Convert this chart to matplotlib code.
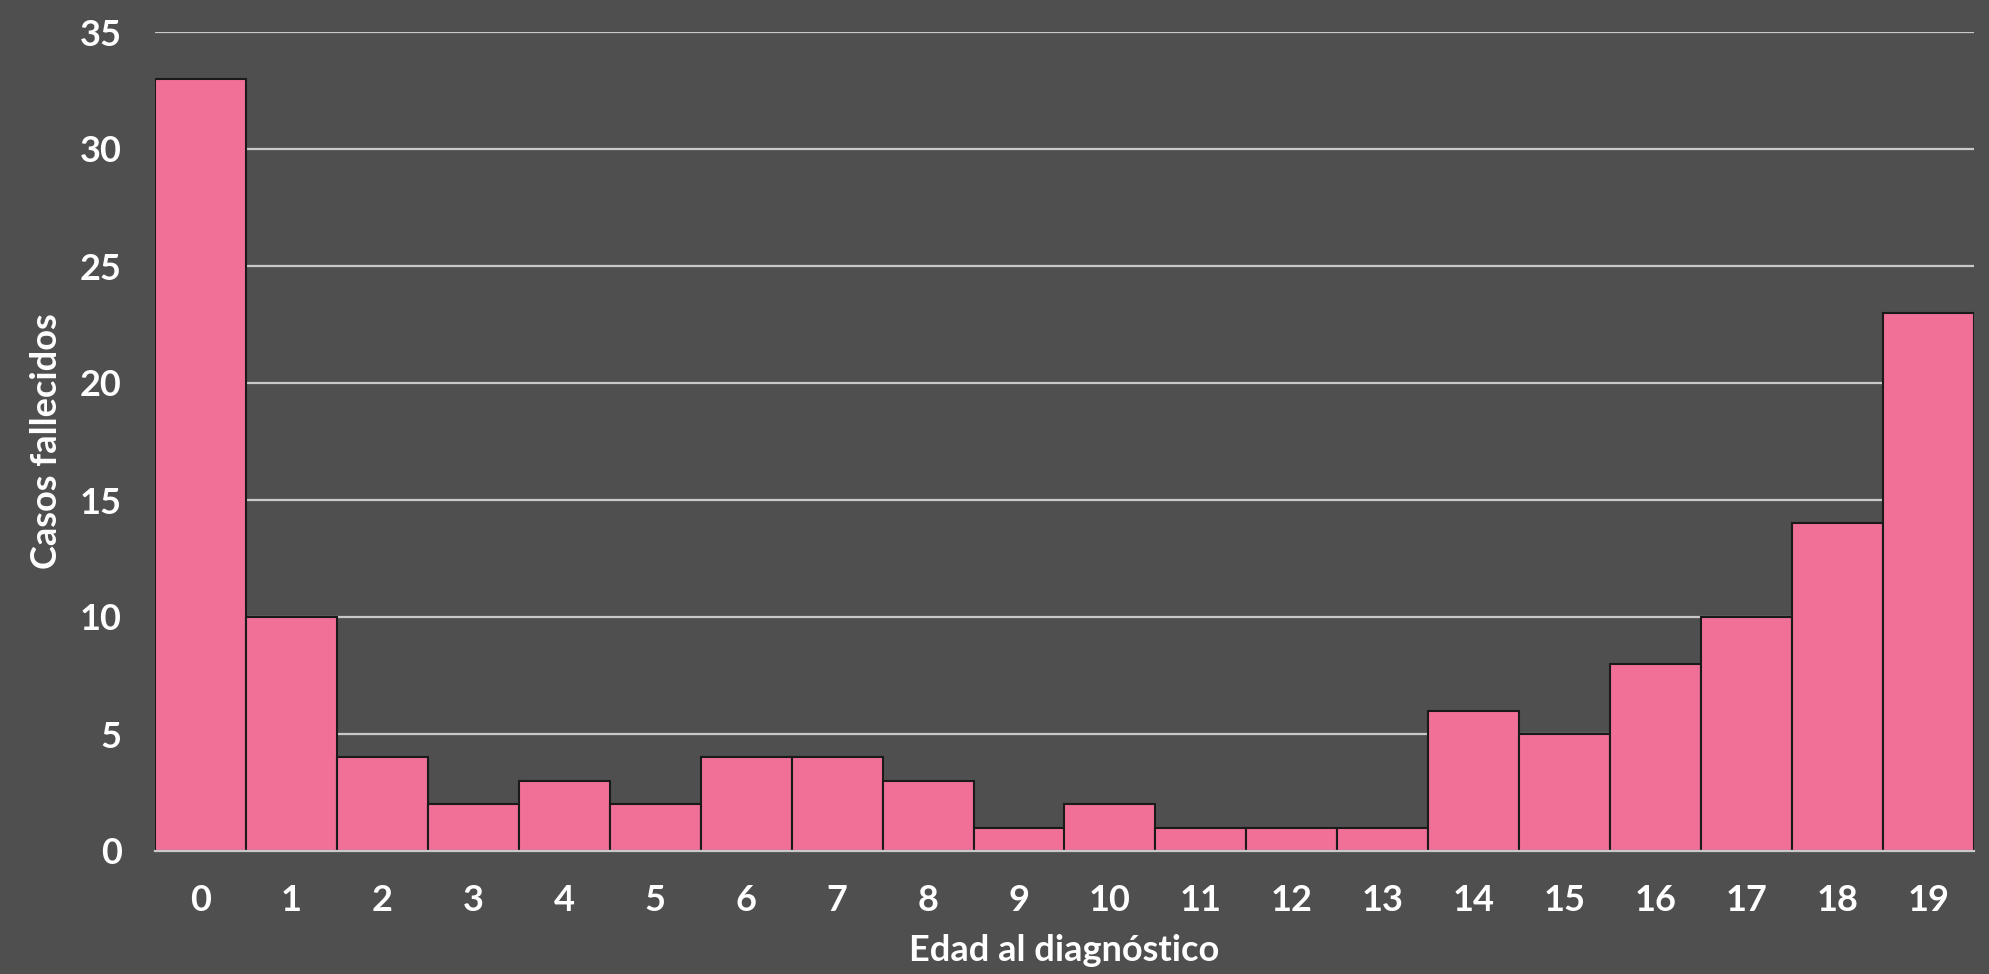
import matplotlib
matplotlib.use("Agg")
import matplotlib.pyplot as plt

ages = list(range(20))
age_labels = [str(a) for a in ages]
deaths = [33, 10, 4, 2, 3, 2, 4, 4, 3, 1, 2, 1, 1, 1, 6, 5, 8, 10, 14, 23]
y_ticks = [0, 5, 10, 15, 20, 25, 30, 35]

BG = "#4f4f4f"
PINK = "#f07098"
GRID = "#c9c9c9"

plt.rcParams['font.family'] = ['Lato', 'DejaVu Sans']

fig = plt.figure(figsize=(19.9, 9.74), dpi=100, facecolor=BG)
ax = fig.add_axes([155/1990, 1-851/974, (1974-155)/1990, (851-32)/974])
ax.set_facecolor(BG)

ax.bar(ages, deaths, width=1.0, color=PINK, edgecolor="#1a1a1a", linewidth=1.5, zorder=3)

ax.set_xlim(-0.5, 19.5)
ax.set_ylim(0, 35)
ax.set_yticks(y_ticks)
ax.set_xticks(ages)
ax.set_xticklabels(age_labels)
ax.yaxis.grid(True, color=GRID, linewidth=1.6, zorder=0)
ax.set_axisbelow(True)
for s in ["top", "right", "left"]:
    ax.spines[s].set_visible(False)
ax.spines["bottom"].set_color(GRID)
ax.spines["bottom"].set_linewidth(1.6)
ax.spines["bottom"].set_zorder(4)

ax.tick_params(axis="both", length=0, colors="white", labelsize=26)
ax.tick_params(axis="x", pad=24)
ax.tick_params(axis="y", pad=24)
for lab in ax.get_xticklabels() + ax.get_yticklabels():
    lab.set_fontweight("bold")

ax.set_xlabel("Edad al diagnóstico", color="white", fontsize=26, fontweight="bold", labelpad=12)
ax.set_ylabel("Casos fallecidos", color="white", fontsize=26, fontweight="bold", labelpad=12)

fig.savefig("out.png", dpi=100, facecolor=BG)
